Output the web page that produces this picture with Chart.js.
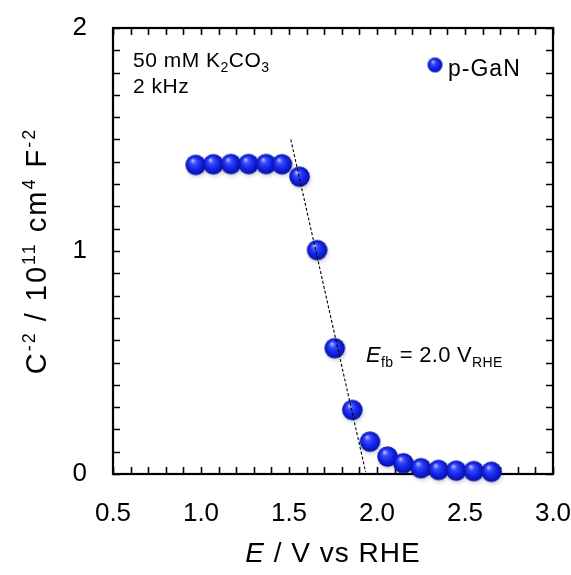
<!DOCTYPE html>
<html>
<head>
<meta charset="utf-8">
<script src="https://cdn.jsdelivr.net/npm/chart.js@4/dist/chart.umd.min.js"></script>
<style>
  html, body { margin: 0; padding: 0; background: #fff; }
  #wrap { width: 571px; height: 575px; }
</style>
</head>
<body>
<div id="wrap"><canvas id="grafico" width="571" height="575"></canvas></div>
<script>
// dados (Mott-Schottky, p-GaN)
const potencial = [0.97, 1.07, 1.17, 1.27, 1.37, 1.46, 1.56, 1.66, 1.76, 1.86, 1.96, 2.06, 2.15, 2.25, 2.35, 2.45, 2.55, 2.65];
const capInv = [1.386, 1.389, 1.39, 1.39, 1.39, 1.389, 1.333, 1.004, 0.564, 0.287, 0.145, 0.078, 0.048, 0.026, 0.018, 0.015, 0.013, 0.01];
const ajusteX = [1.51, 1.935];
const ajusteY = [1.50, 0.01];
const rotuloSerie = 'p-GaN';
const xMin = 0.5, xMax = 3.0, xPasso = 0.5, xMenor = 0.1;
const yMin = 0, yMax = 2, yPasso = 1, yMenor = 0.1;

const FONTE = '"Liberation Sans", Arial, sans-serif';

// bolinha azul com brilho, usada como pointStyle
function bola(r, sombra) {
  const s = Math.ceil(r * 2 + 10);
  const c = document.createElement('canvas');
  c.width = s; c.height = s;
  const g = c.getContext('2d');
  const cx = s / 2, cy = s / 2;
  if (sombra) {
    g.filter = 'blur(2px)';
    g.fillStyle = 'rgba(0,0,40,0.22)';
    g.beginPath();
    g.ellipse(cx + 1, cy + 3, r * 0.95, r * 0.85, 0, 0, Math.PI * 2);
    g.fill();
    g.filter = 'none';
  }
  const grad = g.createRadialGradient(cx - r * 0.3, cy - r * 0.45, r * 0.05, cx, cy, r);
  grad.addColorStop(0, '#b4bcff');
  grad.addColorStop(0.25, '#3a4cff');
  grad.addColorStop(0.6, '#1426ea');
  grad.addColorStop(1, '#0810a0');
  g.fillStyle = grad;
  g.beginPath();
  g.arc(cx, cy, r, 0, Math.PI * 2);
  g.fill();
  return c;
}

const bolaGrande = bola(10.3, true);
const bolaLegenda = bola(7.5, false);

// texto com sub/sobrescritos: partes = [[texto, tamanho, deslocY, italico]]
function textoRico(ctx, partes, x, y, alinhar, espaco) {
  ctx.save();
  ctx.textBaseline = 'alphabetic';
  ctx.textAlign = 'left';
  ctx.letterSpacing = (espaco || 0) + 'px';
  let total = 0;
  const larg = partes.map(p => {
    ctx.font = (p[3] ? 'italic ' : '') + p[1] + 'px ' + FONTE;
    const w = ctx.measureText(p[0]).width;
    total += w;
    return w;
  });
  let px = alinhar === 'center' ? x - total / 2 : x;
  partes.forEach((p, i) => {
    ctx.font = (p[3] ? 'italic ' : '') + p[1] + 'px ' + FONTE;
    ctx.fillStyle = '#000';
    ctx.fillText(p[0], px, y + p[2]);
    px += larg[i];
  });
  ctx.restore();
}

const moldura = {
  id: 'moldura',
  beforeDatasetsDraw(chart) {
    const { ctx, chartArea: a, scales: { x, y } } = chart;
    ctx.save();
    ctx.strokeStyle = '#000';
    ctx.lineWidth = 1.6;
    ctx.beginPath();
    for (let v = xMin; v <= xMax + 1e-9; v += xMenor) {
      const p = Math.round(x.getPixelForValue(v)) + 0.5;
      ctx.moveTo(p, a.bottom); ctx.lineTo(p, a.bottom - 7);
      ctx.moveTo(p, a.top); ctx.lineTo(p, a.top + 7);
    }
    for (let v = yMin; v <= yMax + 1e-9; v += yMenor) {
      const p = Math.round(y.getPixelForValue(v)) + 0.5;
      ctx.moveTo(a.left, p); ctx.lineTo(a.left + 7, p);
      ctx.moveTo(a.right, p); ctx.lineTo(a.right - 7, p);
    }
    ctx.stroke();
    ctx.lineWidth = 2.2;
    ctx.strokeRect(a.left, a.top, a.right - a.left, a.bottom - a.top);
    ctx.restore();
  },
  afterDraw(chart) {
    const { ctx, chartArea: a } = chart;
    const cx = (a.left + a.right) / 2;
    const cy = (a.top + a.bottom) / 2;
    // título eixo x
    textoRico(ctx, [['E', 28, 0, true], [' / V vs RHE', 28, 0, false]], cx, 562, 'center', 1);
    // título eixo y
    ctx.save();
    ctx.translate(46, cy);
    ctx.rotate(-Math.PI / 2);
    textoRico(ctx, [
      ['C', 29, 0], ['-2', 18, -11], [' / 10', 29, 0], ['11', 18, -11],
      [' cm', 29, 0], ['4', 18, -11], [' F', 29, 0], ['-2', 18, -11]
    ], 0, 0, 'center', 2);
    ctx.restore();
    // condições
    textoRico(ctx, [['50 mM K', 21, 0], ['2', 14, 5], ['CO', 21, 0], ['3', 14, 5]], 133, 67, 'left', 0.5);
    textoRico(ctx, [['2 kHz', 21, 0]], 133, 93, 'left', 0.5);
    // legenda
    ctx.drawImage(bolaLegenda, 435 - bolaLegenda.width / 2, 65 - bolaLegenda.height / 2);
    textoRico(ctx, [[rotuloSerie, 23, 0]], 448, 76, 'left', 1);
    // potencial de banda plana
    textoRico(ctx, [['E', 22, 0, true], ['fb', 14, 5], [' = 2.0 V', 22, 0], ['RHE', 14, 5]], 366, 362, 'left', 0.3);
  }
};

const pontos = potencial.map((v, i) => ({ x: v, y: capInv[i] }));
const reta = ajusteX.map((v, i) => ({ x: v, y: ajusteY[i] }));

new Chart(document.getElementById('grafico').getContext('2d'), {
  type: 'scatter',
  data: {
    datasets: [
      {
        label: 'ajuste',
        data: reta,
        showLine: true,
        borderColor: '#000',
        borderWidth: 1.1,
        borderDash: [3, 2],
        pointRadius: 0,
        order: 0
      },
      {
        label: rotuloSerie,
        data: pontos,
        pointStyle: bolaGrande,
        pointRadius: 10,
        clip: false,
        order: 1
      }
    ]
  },
  options: {
    responsive: false,
    animation: false,
    devicePixelRatio: 1,
    layout: { padding: { top: 28, right: 18, left: 0, bottom: 0 } },
    plugins: { legend: { display: false }, tooltip: { enabled: false } },
    scales: {
      x: {
        type: 'linear', min: xMin, max: xMax,
        grid: { display: false, drawTicks: false },
        border: { display: false },
        ticks: {
          stepSize: xPasso, padding: 24, color: '#000',
          font: { family: FONTE, size: 26 },
          callback: v => v.toFixed(1)
        },
        afterFit: s => { s.height = 101; s.paddingLeft = 0; s.paddingRight = 0; }
      },
      y: {
        type: 'linear', min: yMin, max: yMax,
        grid: { display: false, drawTicks: false },
        border: { display: false },
        ticks: {
          stepSize: yPasso, padding: 26, color: '#000',
          font: { family: FONTE, size: 26 },
          callback: v => String(v)
        },
        afterFit: s => { s.width = 113; s.paddingTop = 0; s.paddingBottom = 0; }
      }
    }
  },
  plugins: [moldura]
});
</script>
</body>
</html>
